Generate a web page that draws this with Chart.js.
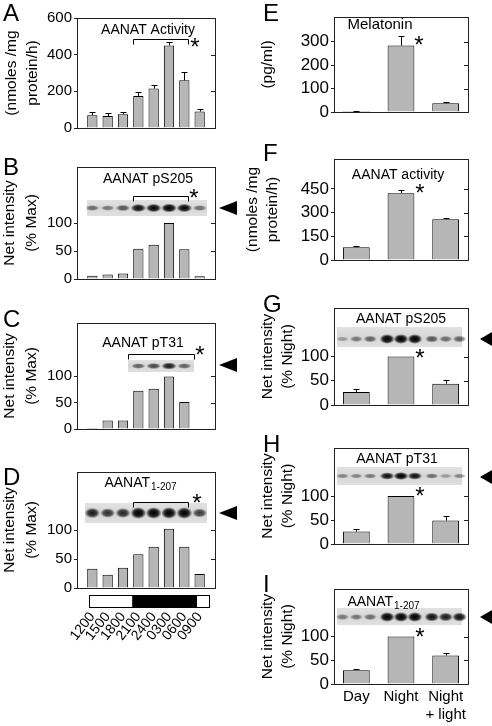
<!DOCTYPE html>
<html>
<head>
<meta charset="utf-8">
<script src="https://cdn.jsdelivr.net/npm/chart.js@4.4.1/dist/chart.umd.min.js"></script>
<style>
  html, body { margin: 0; padding: 0; background: #fff; }
  #fig { position: relative; width: 492px; height: 726px; overflow: hidden; }
  #fig canvas { position: absolute; }
</style>
</head>
<body>
<div id="fig"></div>
<script>
'use strict';

// time points (left column) and conditions (right column)
const timeLabels = ['1200', '1500', '1800', '2100', '2400', '0300', '0600', '0900'];
const condLabels = ['Day', 'Night', ['Night', '+ light']];

// A: AANAT activity over the day (nmoles/mg protein/h)
const activityTime = [70, 65, 75, 175, 215, 450, 260, 90];
const activityTimeErr = [15, 15, 12, 22, 22, 18, 45, 14];
// B-D: blot net intensity (% max)
const pS205Time = [6, 8, 10, 54, 61, 100, 53, 5];
const pT31Time = [2, 16, 16, 72, 76, 99, 51, 1];
const aanatTime = [33, 23, 35, 58, 71, 102, 71, 24];

// E: melatonin (pg/ml)
const melatonin = [4, 283, 37];
const melatoninErr = [2, 41, 5];
// F: AANAT activity
const activityCond = [81, 423, 258];
const activityCondErr = [9, 21, 9];
// G-I: net intensity (% night)
const pS205Cond = [27, 100, 44];
const pS205CondErr = [6, 0, 8];
const pT31Cond = [26, 100, 49];
const pT31CondErr = [5, 0, 9];
const aanatCond = [29, 100, 60];
const aanatCondErr = [3, 0, 5];

// y tick values
const ticksActivity = [0, 200, 400, 600];
const ticksPercent = [0, 50, 100];
const ticksMelatonin = [0, 100, 200, 300];
const ticksActivityCond = [0, 150, 300, 450];

// blot band darkness per lane
const bandsB = [0.5, 0.45, 0.6, 0.9, 0.95, 1, 0.95, 0.5];
const bandsC = [0.55, 0.65, 0.85, 0.55];
const bandsD = [0.85, 0.75, 0.8, 1, 1, 1, 1, 0.7];
const bandsG = [0.3, 0.45, 0.55, 1, 1, 1, 0.6, 0.5, 0.55];
const bandsH = [0.4, 0.4, 0.45, 0.9, 1, 0.9, 0.5, 0.3, 0.4];
const bandsI = [0.45, 0.45, 0.5, 1, 1, 1, 0.9, 0.85, 0.9];

// light (false) / dark (true) schedule below panel D, in bar-position units
const lightSchedule = [[0.78, 3.6, false], [3.6, 7.83, true], [7.83, 8.6, false]];

Chart.defaults.font.family = "'Liberation Sans', Arial, sans-serif";
Chart.defaults.color = '#000';

const FONT = "'Liberation Sans', Arial, sans-serif";
const BAR_FILL = '#b6b6b6';
const fig = document.getElementById('fig');

function text(ctx, str, x, y, size, align, rot) {
    ctx.save();
    ctx.translate(x, y);
    if (rot) ctx.rotate(rot);
    ctx.font = size + 'px ' + FONT;
    ctx.fillStyle = '#000';
    ctx.textAlign = align || 'center';
    ctx.textBaseline = 'middle';
    ctx.fillText(str, 0, 0);
    ctx.restore();
}

// "AANAT" with a subscript, centered at x
function subText(ctx, main, sub, x, y) {
    ctx.save();
    ctx.font = '14px ' + FONT;
    let w1 = ctx.measureText(main).width;
    ctx.font = '10px ' + FONT;
    let w2 = ctx.measureText(sub).width;
    let x0 = x - (w1 + w2) / 2;
    ctx.restore();
    text(ctx, main, x0, y, 14, 'left');
    text(ctx, sub, x0 + w1 + 1, y + 4, 10, 'left');
}

function asterisk(ctx, x, y) {
    text(ctx, '*', x, y + 6, 24);
}

function arrowHead(ctx, x, y, w) {
    ctx.beginPath();
    ctx.moveTo(x, y);
    ctx.lineTo(x + w, y - 7);
    ctx.lineTo(x + w, y + 7);
    ctx.closePath();
    ctx.fillStyle = '#000';
    ctx.fill();
}

function blot(ctx, b, lanes, bands) {
    let g = ctx.createLinearGradient(0, b.y0, 0, b.y1);
    g.addColorStop(0, '#e2e2e2');
    g.addColorStop(0.5, '#d6d6d6');
    g.addColorStop(1, '#e0e0e0');
    ctx.fillStyle = g;
    ctx.fillRect(b.x0, b.y0, b.x1 - b.x0, b.y1 - b.y0);
    bands.forEach((a, i) => {
        let w = b.laneW * (0.85 + 0.25 * a);
        let h = 3 + b.h * a;
        ctx.save();
        ctx.translate(lanes[i], b.yb);
        ctx.scale(w / 2, h / 2);
        let rg = ctx.createRadialGradient(0, 0, 0, 0, 0, 1);
        rg.addColorStop(0, 'rgba(0,0,0,' + Math.min(1, a * 1.05) + ')');
        rg.addColorStop(0.55, 'rgba(0,0,0,' + (a * 0.85) + ')');
        rg.addColorStop(1, 'rgba(0,0,0,0)');
        ctx.fillStyle = rg;
        ctx.beginPath();
        ctx.arc(0, 0, 1, 0, 2 * Math.PI);
        ctx.fill();
        ctx.restore();
    });
}

function bracket(ctx, x0, x1, y) {
    ctx.beginPath();
    ctx.moveTo(x0, y + 5);
    ctx.lineTo(x0, y);
    ctx.lineTo(x1, y);
    ctx.lineTo(x1, y + 5);
    ctx.strokeStyle = '#000';
    ctx.lineWidth = 1;
    ctx.stroke();
}

/**
 *  One panel = one canvas. Coordinates in cfg are page coordinates.
 */
function panel(cfg) {
    let [cx, cy, cw, ch] = cfg.canvas;
    let [al, at, ar, ab] = cfg.area;
    let canvas = document.createElement('canvas');
    canvas.width = cw;
    canvas.height = ch;
    canvas.style.left = cx + 'px';
    canvas.style.top = cy + 'px';
    canvas.style.width = cw + 'px';
    canvas.style.height = ch + 'px';
    fig.appendChild(canvas);

    let timeAxis = cfg.values.length === 8;
    let labels = timeAxis ? [''].concat(timeLabels, ['']) : condLabels;
    let data = timeAxis ? [null].concat(cfg.values, [null]) : cfg.values;
    let errs = cfg.errors ? (timeAxis ? [0].concat(cfg.errors, [0]) : cfg.errors) : null;

    let deco = {
        id: 'deco',
        afterDraw(chart) {
            let ctx = chart.ctx;
            let a = chart.chartArea;
            let xs = chart.scales.x, ys = chart.scales.y;
            ctx.save();
            ctx.translate(-cx, -cy);   // draw in page coordinates
            let px = v => xs.getPixelForValue(v) + cx;
            let py = v => ys.getPixelForValue(v) + cy;

            // error bars
            if (errs) {
                let meta = chart.getDatasetMeta(0);
                ctx.strokeStyle = '#000';
                ctx.lineWidth = 1;
                meta.data.forEach((el, i) => {
                    if (data[i] === null || !errs[i]) return;
                    let x = Math.round(el.x + cx) + 0.5;
                    let yTop = Math.round(py(data[i] + errs[i])) + 0.5;
                    ctx.beginPath();
                    ctx.moveTo(x, el.y + cy);
                    ctx.lineTo(x, yTop);
                    ctx.moveTo(x - 3, yTop);
                    ctx.lineTo(x + 3, yTop);
                    ctx.stroke();
                });
            }

            // frame and inward ticks on the right
            let L = a.left + cx, T = a.top + cy, R = a.right + cx, B = a.bottom + cy;
            ctx.strokeStyle = '#222';
            ctx.lineWidth = 1;
            ctx.strokeRect(Math.round(L) + 0.5, Math.round(T) + 0.5, Math.round(R - L), Math.round(B - T));
            cfg.yTicks.forEach(v => {
                let y = Math.round(py(v)) + 0.5;
                ctx.beginPath();
                ctx.moveTo(R - 4, y);
                ctx.lineTo(R, y);
                ctx.stroke();
            });

            // blot strip
            if (cfg.blot) {
                let b = cfg.blot;
                let lanes;
                if (timeAxis) {
                    lanes = b.lanes.map(v => px(v));
                    b = Object.assign({ laneW: (px(2) - px(1)) * 0.95 }, b);
                } else {
                    let step = (px(1) - px(0)) * 0.31;
                    lanes = [];
                    condLabels.forEach((c, k) => {
                        for (let j = -1; j <= 1; j++) lanes.push(px(k) + j * step);
                    });
                    b = Object.assign({ laneW: step }, b);
                }
                blot(ctx, b, lanes, cfg.bands);
                arrowHead(ctx, cfg.arrow[0], cfg.arrow[1], cfg.arrow[2]);
            }

            if (cfg.bracket) {
                let [u0, u1, y] = cfg.bracket;
                bracket(ctx, Math.round(px(u0)) + 0.5, Math.round(px(u1)) + 0.5, y + 0.5);
            }
            if (cfg.star) asterisk(ctx, cfg.star[0], cfg.star[1]);

            // panel title inside the plot
            let [title, tx, ty] = cfg.title;
            if (Array.isArray(title)) subText(ctx, title[0], title[1], tx, ty);
            else text(ctx, title, tx, ty, cfg.titleSize || 14);

            // y axis title
            cfg.yTitle.forEach(([s, x]) => text(ctx, s, x, (T + B) / 2, 15.5, 'center', -Math.PI / 2));

            // panel letter
            ctx.font = '24px ' + FONT;
            ctx.fillStyle = '#000';
            ctx.textAlign = 'left';
            ctx.textBaseline = 'alphabetic';
            ctx.fillText(cfg.letter[0], cfg.letter[1], cfg.letter[2]);

            // light / dark bar
            if (cfg.schedule) {
                let y0 = cfg.schedule[0], h = cfg.schedule[1];
                lightSchedule.forEach(([f, t, dark]) => {
                    ctx.fillStyle = dark ? '#000' : '#fff';
                    ctx.fillRect(px(f), y0, px(t) - px(f), h);
                });
                let f0 = px(lightSchedule[0][0]), f1 = px(lightSchedule[lightSchedule.length - 1][1]);
                ctx.strokeStyle = '#000';
                ctx.strokeRect(Math.round(f0) + 0.5, y0 + 0.5, Math.round(f1 - f0), h);
            }
            ctx.restore();
        }
    };

    return new Chart(canvas, {
        type: 'bar',
        data: {
            labels: labels,
            datasets: [{
                data: data,
                backgroundColor: BAR_FILL,
                borderColor: '#000',
                borderWidth: 1,
                barPercentage: timeAxis ? 0.67 : 0.6,
                categoryPercentage: 1,
            }]
        },
        options: {
            responsive: false,
            animation: false,
            events: [],
            layout: {
                autoPadding: false,
                padding: { left: 0, top: at - cy, right: cx + cw - ar, bottom: 0 },
            },
            plugins: {
                legend: { display: false },
                tooltip: { enabled: false },
            },
            scales: {
                x: {
                    type: 'category',
                    offset: !timeAxis,
                    grid: { display: false, drawTicks: false },
                    border: { display: false },
                    ticks: Object.assign({
                        display: !!cfg.xLabels,
                        autoSkip: false,
                        maxRotation: 0,
                        minRotation: 0,
                        font: { size: 15 },
                        padding: 4,
                    }, cfg.xTicks || {}),
                    afterFit: s => {
                        s.height = cy + ch - ab;
                        s.paddingLeft = 0;
                        s.paddingRight = 0;
                    },
                },
                y: {
                    min: 0,
                    max: cfg.yMax,
                    afterBuildTicks: s => { s.ticks = cfg.yTicks.map(v => ({ value: v })); },
                    grid: { drawOnChartArea: false, drawTicks: true, tickLength: 3, color: '#222' },
                    border: { display: false },
                    ticks: { font: { size: cfg.tickSize || 15 }, padding: 2 },
                    afterFit: s => { s.width = al - cx; },
                }
            }
        },
        plugins: [deco]
    });
}

// ---------- left column ----------
panel({
    canvas: [0, 0, 245, 142], area: [77, 18, 215, 128],
    values: activityTime, errors: activityTimeErr,
    yMax: 600, yTicks: ticksActivity,
    title: ['AANAT Activity', 148, 30],
    bracket: [3.64, 7.27, 39], star: [195, 42],
    yTitle: [['(nmoles /mg', 12], ['protein/h)', 33]],
    letter: ['A', 3, 21],
});
panel({
    canvas: [0, 142, 245, 148], area: [77, 167, 215, 280],
    values: pS205Time,
    yMax: 200, yTicks: ticksPercent,
    title: ['AANAT pS205', 148, 179],
    bracket: [3.64, 7.27, 196], star: [194, 193],
    blot: { x0: 87, x1: 207, y0: 200, y1: 216, yb: 208, h: 6, lanes: [1, 2, 3, 4, 5, 6, 7, 8] },
    bands: bandsB, arrow: [219, 208, 18],
    yTitle: [['Net intensity', 10], ['(% Max)', 32]],
    letter: ['B', 3, 175],
});
panel({
    canvas: [0, 290, 245, 150], area: [77, 323, 215, 433],
    values: pT31Time,
    yMax: 200, yTicks: ticksPercent,
    title: ['AANAT pT31', 143, 343],
    bracket: [3.31, 7.6, 354], star: [200, 350],
    blot: { x0: 128, x1: 194, y0: 360, y1: 372, yb: 366, h: 5, lanes: [4, 5, 6, 7] },
    bands: bandsC, arrow: [219, 365, 18],
    yTitle: [['Net intensity', 10], ['(% Max)', 32]],
    letter: ['C', 3, 327],
});
panel({
    canvas: [0, 440, 245, 286], area: [77, 472, 215, 588],
    values: aanatTime,
    yMax: 200, yTicks: ticksPercent,
    title: [['AANAT', '1-207'], 140, 483],
    bracket: [3.64, 7.27, 502], star: [197, 498],
    blot: { x0: 85, x1: 207, y0: 503, y1: 523, yb: 513, h: 9, lanes: [1, 2, 3, 4, 5, 6, 7, 8] },
    bands: bandsD, arrow: [219, 513, 18],
    yTitle: [['Net intensity', 10], ['(% Max)', 32]],
    letter: ['D', 3, 485],
    xLabels: true,
    xTicks: { maxRotation: 52, minRotation: 52, padding: 21, font: { size: 14 } },
    schedule: [595, 12],
});

// ---------- right column ----------
panel({
    canvas: [245, 0, 247, 140], area: [334, 17, 468, 112],
    values: melatonin, errors: melatoninErr,
    yMax: 405, yTicks: ticksMelatonin, tickSize: 17,
    title: ['Melatonin', 380, 25], titleSize: 15,
    star: [419, 40],
    yTitle: [['(pg/ml)', 268]],
    letter: ['E', 263, 21],
});
panel({
    canvas: [245, 140, 247, 140], area: [334, 159, 468, 260],
    values: activityCond, errors: activityCondErr,
    yMax: 640, yTicks: ticksActivityCond, tickSize: 17,
    title: ['AANAT activity', 398, 175],
    star: [420, 188],
    yTitle: [['(nmoles /mg', 253], ['protein/h)', 273]],
    letter: ['F', 263, 161],
});
panel({
    canvas: [245, 280, 247, 140], area: [334, 308, 468, 405],
    values: pS205Cond, errors: pS205CondErr,
    yMax: 200, yTicks: ticksPercent, tickSize: 17,
    title: ['AANAT pS205', 401, 319],
    star: [420, 353],
    blot: { x0: 337, x1: 462, y0: 327, y1: 347, yb: 339, h: 7 },
    bands: bandsG, arrow: [480, 339, 12],
    yTitle: [['Net intensity', 268], ['(% Night)', 288]],
    letter: ['G', 263, 312],
});
panel({
    canvas: [245, 420, 247, 140], area: [334, 448, 468, 544],
    values: pT31Cond, errors: pT31CondErr,
    yMax: 200, yTicks: ticksPercent, tickSize: 17,
    title: ['AANAT pT31', 397, 459],
    star: [420, 491],
    blot: { x0: 337, x1: 462, y0: 467, y1: 485, yb: 476, h: 5 },
    bands: bandsH, arrow: [480, 477, 12],
    yTitle: [['Net intensity', 268], ['(% Night)', 288]],
    letter: ['H', 263, 452],
});
panel({
    canvas: [245, 560, 247, 166], area: [334, 589, 468, 684],
    values: aanatCond, errors: aanatCondErr,
    yMax: 200, yTicks: ticksPercent, tickSize: 17,
    title: [['AANAT', '1-207'], 383, 602],
    star: [420, 632],
    blot: { x0: 337, x1: 462, y0: 608, y1: 625, yb: 617, h: 7 },
    bands: bandsI, arrow: [480, 617, 12],
    yTitle: [['Net intensity', 268], ['(% Night)', 288]],
    letter: ['I', 263, 592],
    xLabels: true,
});
</script>
</body>
</html>
